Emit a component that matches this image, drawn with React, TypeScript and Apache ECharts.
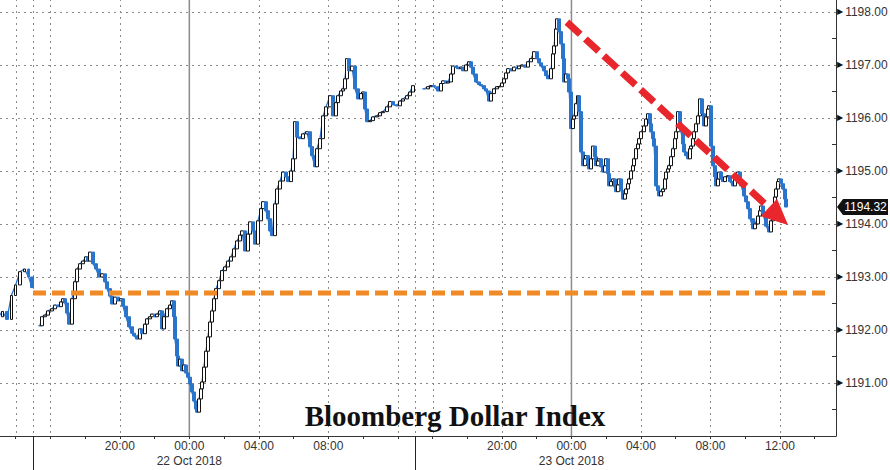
import React, { useEffect, useRef } from "react";
import * as echarts from "echarts";

// Hours are measured from the Sunday 21 Oct 15:00 session open.
// The Monday 15:00 session starts 22 hours later on the compressed axis.
const fridayPoints: [number, number][] = [
  [-2.0, 1192.25], [-1.75, 1192.35], [-1.5, 1192.2], [-1.25, 1192.65], [-1.0, 1192.85],
  [-0.75, 1193.1], [-0.5, 1193.15], [-0.25, 1193.0], [-0.06, 1192.8],
];

const sessionOnePoints: [number, number][] = [
  [0.40, 1192.08], [0.52, 1192.25], [0.69, 1192.28], [0.86, 1192.36], [1.09, 1192.40],
  [1.27, 1192.47], [1.44, 1192.44], [1.61, 1192.53], [1.73, 1192.59], [1.84, 1192.51],
  [1.96, 1192.32], [2.07, 1192.11], [2.25, 1192.59], [2.42, 1192.91], [2.53, 1193.15],
  [2.71, 1193.25], [2.88, 1193.30], [3.05, 1193.38], [3.17, 1193.30], [3.28, 1193.47],
  [3.45, 1193.25], [3.63, 1193.15], [3.80, 1193.00], [3.97, 1193.06], [4.15, 1192.91],
  [4.26, 1192.78], [4.43, 1192.64], [4.55, 1192.49], [4.72, 1192.62], [4.89, 1192.55],
  [5.07, 1192.59], [5.18, 1192.45], [5.35, 1192.25], [5.53, 1192.06], [5.70, 1191.94],
  [5.81, 1191.89], [5.99, 1191.83], [6.16, 1192.02], [6.28, 1191.93], [6.45, 1192.11],
  [6.56, 1192.21], [6.74, 1192.25], [6.85, 1192.30], [7.02, 1192.25], [7.14, 1192.30],
  [7.31, 1192.36], [7.43, 1192.02], [7.54, 1192.25], [7.71, 1192.40], [7.89, 1192.47],
  [8.00, 1192.55], [8.12, 1192.25], [8.17, 1191.83], [8.29, 1191.51], [8.35, 1191.32],
  [8.46, 1191.45], [8.58, 1191.23], [8.69, 1191.34], [8.81, 1191.19], [8.92, 1191.11],
  [9.04, 1190.98], [9.15, 1190.83], [9.27, 1190.66], [9.38, 1190.51], [9.44, 1190.45],
  [9.56, 1190.70], [9.67, 1190.89], [9.73, 1191.02], [9.84, 1191.30], [9.96, 1191.60],
  [10.07, 1191.87], [10.19, 1192.15], [10.31, 1192.36], [10.42, 1192.59], [10.54, 1192.78],
  [10.71, 1192.93], [10.88, 1193.12], [11.05, 1193.19], [11.23, 1193.30], [11.40, 1193.38],
  [11.57, 1193.53], [11.74, 1193.68], [11.92, 1193.79], [12.03, 1193.87], [12.20, 1193.49],
  [12.38, 1193.81], [12.49, 1194.04], [12.67, 1193.87], [12.78, 1193.62], [12.95, 1194.06],
  [13.13, 1194.29], [13.24, 1194.42], [13.41, 1194.25], [13.53, 1194.10], [13.64, 1193.87],
  [13.76, 1193.78], [13.93, 1194.38], [14.05, 1194.66], [14.22, 1194.81], [14.39, 1194.98],
  [14.57, 1194.89], [14.68, 1194.80], [14.85, 1195.00], [14.97, 1195.23], [15.08, 1195.93],
  [15.20, 1195.64], [15.37, 1195.61], [15.54, 1195.70], [15.77, 1195.74], [15.95, 1195.46],
  [16.06, 1195.29], [16.23, 1195.08], [16.35, 1195.42], [16.52, 1195.61], [16.70, 1196.04],
  [16.87, 1196.21], [17.10, 1196.42], [17.27, 1196.04], [17.44, 1196.29], [17.56, 1196.42],
  [17.73, 1196.51], [17.85, 1196.55], [17.96, 1196.74], [18.08, 1197.12], [18.19, 1196.89],
  [18.36, 1196.98], [18.54, 1196.55], [18.71, 1196.36], [18.88, 1196.46], [19.00, 1196.49],
  [19.11, 1196.17], [19.23, 1195.93], [19.40, 1195.95], [19.57, 1196.02], [19.80, 1196.04],
  [19.98, 1196.10], [20.15, 1196.12], [20.38, 1196.21], [20.55, 1196.31], [20.73, 1196.25],
  [20.95, 1196.23], [21.13, 1196.32], [21.30, 1196.36], [21.53, 1196.42], [21.70, 1196.49],
  [21.88, 1196.61],
];

const sessionTwoPoints: [number, number][] = [
  [0.52, 1196.55], [0.75, 1196.59], [0.92, 1196.61], [1.09, 1196.59], [1.32, 1196.51],
  [1.50, 1196.65], [1.61, 1196.70], [1.78, 1196.66], [1.90, 1196.68], [2.07, 1196.83],
  [2.19, 1196.98], [2.36, 1196.96], [2.48, 1196.93], [2.65, 1196.96], [2.76, 1196.89],
  [2.94, 1197.00], [3.11, 1197.06], [3.22, 1196.96], [3.34, 1196.83], [3.51, 1196.68],
  [3.68, 1196.63], [3.80, 1196.61], [3.97, 1196.55], [4.09, 1196.51], [4.26, 1196.32],
  [4.38, 1196.46], [4.55, 1196.55], [4.72, 1196.59], [4.84, 1196.59], [5.01, 1196.66],
  [5.12, 1196.74], [5.24, 1196.85], [5.35, 1196.93], [5.53, 1196.89], [5.70, 1196.96],
  [5.87, 1196.93], [5.99, 1196.98], [6.16, 1197.00], [6.33, 1196.96], [6.51, 1197.06],
  [6.68, 1197.12], [6.85, 1197.25], [7.02, 1197.12], [7.14, 1197.04], [7.25, 1196.98],
  [7.43, 1196.89], [7.54, 1196.80], [7.66, 1196.74], [7.83, 1196.93], [7.94, 1197.21],
  [8.00, 1197.36], [8.12, 1197.68], [8.17, 1197.87], [8.29, 1197.63], [8.41, 1197.40],
  [8.52, 1197.12], [8.58, 1196.68], [8.69, 1196.83], [8.81, 1196.74], [8.87, 1196.49],
  [8.98, 1195.80], [9.10, 1195.98], [9.15, 1196.04], [9.27, 1196.27], [9.38, 1196.42],
  [9.44, 1196.12], [9.56, 1195.36], [9.67, 1195.10], [9.79, 1195.23], [9.84, 1195.29],
  [9.96, 1195.14], [10.02, 1195.04], [10.13, 1195.23], [10.25, 1195.47], [10.36, 1195.27],
  [10.42, 1195.10], [10.54, 1195.19], [10.59, 1195.23], [10.71, 1195.08], [10.82, 1194.98],
  [10.94, 1195.10], [11.00, 1195.23], [11.11, 1194.95], [11.17, 1194.72], [11.28, 1194.80],
  [11.40, 1194.85], [11.51, 1194.70], [11.57, 1194.61], [11.69, 1194.74], [11.74, 1194.85],
  [11.86, 1194.63], [11.97, 1194.47], [12.09, 1194.57], [12.15, 1194.66], [12.26, 1194.76],
  [12.32, 1194.85], [12.44, 1195.00], [12.55, 1195.10], [12.61, 1195.23], [12.72, 1195.42],
  [12.84, 1195.51], [12.90, 1195.61], [13.01, 1195.74], [13.18, 1195.85], [13.30, 1195.98],
  [13.41, 1196.08], [13.53, 1195.89], [13.59, 1195.74], [13.70, 1195.61], [13.76, 1195.47],
  [13.87, 1194.72], [13.99, 1194.63], [14.05, 1194.53], [14.16, 1194.61], [14.28, 1194.66],
  [14.39, 1194.85], [14.45, 1194.98], [14.57, 1195.04], [14.62, 1195.10], [14.74, 1195.27],
  [14.85, 1195.42], [14.97, 1195.61], [15.03, 1195.74], [15.14, 1196.12], [15.26, 1195.89],
  [15.31, 1195.74], [15.43, 1195.51], [15.49, 1195.36], [15.60, 1195.29], [15.72, 1195.23],
  [15.83, 1195.42], [15.89, 1195.47], [16.00, 1195.61], [16.06, 1195.74], [16.18, 1195.89],
  [16.29, 1196.04], [16.41, 1196.36], [16.52, 1196.08], [16.64, 1195.85], [16.75, 1196.02],
  [16.87, 1196.17], [16.93, 1196.23], [17.04, 1195.47], [17.16, 1195.10], [17.27, 1194.89],
  [17.33, 1194.72], [17.44, 1194.85], [17.50, 1194.98], [17.62, 1194.85], [17.73, 1194.80],
  [17.85, 1194.89], [18.02, 1194.91], [18.13, 1194.80], [18.31, 1194.72], [18.42, 1194.85],
  [18.60, 1194.98], [18.71, 1194.81], [18.77, 1194.72], [18.94, 1194.53], [19.06, 1194.42],
  [19.17, 1194.29], [19.29, 1194.10], [19.46, 1193.91], [19.57, 1194.00], [19.75, 1194.15],
  [19.86, 1194.25], [19.92, 1194.34], [20.03, 1194.19], [20.21, 1193.96], [20.38, 1193.85],
  [20.49, 1194.06], [20.61, 1194.23], [20.73, 1194.51], [20.78, 1194.66], [20.90, 1194.80],
  [20.96, 1194.85], [21.07, 1194.76], [21.19, 1194.66], [21.30, 1194.47], [21.36, 1194.32],
];
const SESSION_TWO_OFFSET = 22;

const axisTickHours = [-1, 1, 3, 5, 7, 9, 11, 13, 15, 17, 19, 21, 23, 25, 27, 29, 31, 33, 35, 37, 39, 41, 43, 45];
const tickHours = [5, 9, 13, 17, 27, 31, 35, 39, 43];
const tickTexts = ["20:00", "00:00", "04:00", "08:00", "20:00", "00:00", "04:00", "08:00", "12:00"];
const dateHours = [9, 31];
const dateTexts = ["22 Oct 2018", "23 Oct 2018"];
const dottedGridHours = [-1, 0, 1, 5, 13, 17, 21, 22, 23, 27, 35, 39, 43];
const midnightHours = [9, 31];
const sessionBreakHours = [0, 22];

const supportLevel = 1192.7;
const supportFrom = 0;
const supportTo = 45.65;
const trendStart: [number, number] = [30.74, 1197.81];
const trendTip: [number, number] = [43.47, 1193.98];
const lastPrice = 1194.32;
const titleText = "Bloomberg Dollar Index";

const BLUE = "#2b74cc";
const FONT = "Liberation Sans";

function near(a: number, b: number) {
  return Math.abs(a - b) < 1e-6;
}

function toCandles(seg: number[][]) {
  return seg.map(([x, c], i) => {
    const o = i > 0 ? seg[i - 1][1] : c;
    return [x, o, c, Math.min(o, c), Math.max(o, c)];
  });
}

export default function App() {
  const ref = useRef<HTMLDivElement>(null);

  useEffect(() => {
    if (!ref.current) return;
    const chart = echarts.init(ref.current, null, { renderer: "svg" });

    const seg0 = fridayPoints.map(([h, v]) => [h, v]);
    const seg1 = sessionOnePoints.map(([h, v]) => [h, v]);
    const seg2 = sessionTwoPoints.map(([h, v]) => [h + SESSION_TWO_OFFSET, v]);
    const candles = [...toCandles(seg0), ...toCandles(seg1), ...toCandles(seg2)];

    const lineSeries = [seg0, seg1, seg2].map((seg) => ({
      type: "line",
      data: seg,
      symbol: "none",
      silent: true,
      z: 3,
      lineStyle: { color: BLUE, width: 1.3 },
    }));

    chart.setOption({
      animation: false,
      grid: { left: 0, right: 54, top: -1, bottom: 34, containLabel: false, outerBoundsMode: "none" },
      xAxis: {
        type: "value",
        min: -1.9,
        max: 46.23,
        axisLine: { onZero: false, lineStyle: { color: "#333", width: 1 } },
        axisTick: { show: true, length: 3, customValues: axisTickHours, lineStyle: { color: "#333" } },
        splitLine: { show: false },
        axisLabel: {
          customValues: tickHours,
          margin: 2,
          color: "#333",
          fontSize: 12,
          lineHeight: 15,
          fontFamily: FONT,
          formatter: (v: number) => {
            const i = tickHours.findIndex((t) => near(t, v));
            if (i < 0) return "";
            const d = dateHours.findIndex((t) => near(t, v));
            return d >= 0 ? `${tickTexts[i]}\n${dateTexts[d]}` : tickTexts[i];
          },
        },
      },
      yAxis: {
        type: "value",
        position: "right",
        min: 1190,
        max: 1198.245,
        interval: 1,
        axisLine: { show: true, onZero: false, lineStyle: { color: "#333", width: 1 } },
        axisTick: { show: false, inside: true },
        minorTick: { show: true, splitNumber: 2, length: 4, lineStyle: { color: "#333" } },
        splitLine: { show: true, lineStyle: { color: "#8a8a8a", type: [2, 4], width: 1 } },
        axisLabel: {
          margin: 1,
          showMinLabel: false,
          showMaxLabel: false,
          formatter: (v: number) =>
            near(v, Math.round(v)) ? `{a|\u25B6}{b|${v.toFixed(2)}}` : "",
          rich: {
            a: { fontSize: 8, color: "#111", fontFamily: "DejaVu Sans", verticalAlign: "middle" },
            b: { fontSize: 12, color: "#333", fontFamily: FONT, padding: [0, 0, 0, 2], verticalAlign: "middle" },
          },
        },
      },
      series: [
        ...lineSeries,
        {
          type: "candlestick",
          data: candles,
          barWidth: 3,
          silent: true,
          z: 4,
          itemStyle: {
            color: "#ffffff",
            color0: BLUE,
            borderColor: "#111111",
            borderColor0: BLUE,
            borderWidth: 1,
          },
        },
      ],
    });

    const px = (x: number) => chart.convertToPixel({ xAxisIndex: 0 }, x) as number;
    const py = (y: number) => chart.convertToPixel({ yAxisIndex: 0 }, y) as number;
    const yTop = py(1198.245);
    const yBottom = py(1190);
    const xRight = px(46.23);

    const graphics: any[] = [];
    dottedGridHours.forEach((h) => {
      const x = Math.round(px(h)) + 0.5;
      graphics.push({
        type: "line",
        z: 1,
        silent: true,
        shape: { x1: x, y1: yTop, x2: x, y2: yBottom },
        style: { stroke: "#8a8a8a", lineWidth: 1, lineDash: [2, 4] },
      });
    });
    midnightHours.forEach((h) => {
      const x = px(h);
      graphics.push({
        type: "line",
        z: 1,
        silent: true,
        shape: { x1: x, y1: yTop, x2: x, y2: yBottom },
        style: { stroke: "#8c8c8c", lineWidth: 1.5 },
      });
    });
    sessionBreakHours.forEach((h) => {
      const x = Math.round(px(h)) + 0.5;
      graphics.push({
        type: "line",
        z: 1,
        silent: true,
        shape: { x1: x, y1: yBottom, x2: x, y2: 470 },
        style: { stroke: "#222", lineWidth: 1 },
      });
    });

    // support level
    graphics.push({
      type: "line",
      z: 50,
      silent: true,
      shape: { x1: px(supportFrom), y1: py(supportLevel), x2: px(supportTo), y2: py(supportLevel) },
      style: { stroke: "#f08a24", lineWidth: 5, lineDash: [13, 6] },
    });

    // down-trend arrow
    const sx = px(trendStart[0]);
    const sy = py(trendStart[1]);
    const tx = px(trendTip[0]);
    const ty = py(trendTip[1]);
    const len = Math.hypot(tx - sx, ty - sy);
    const dx = (tx - sx) / len;
    const dy = (ty - sy) / len;
    const headLen = 26;
    const headHalf = 12;
    const bx = tx - dx * headLen;
    const by = ty - dy * headLen;
    graphics.push({
      type: "line",
      z: 51,
      silent: true,
      shape: { x1: sx, y1: sy, x2: bx + dx * 3, y2: by + dy * 3 },
      style: { stroke: "#e8262b", lineWidth: 7, lineDash: [18, 7] },
    });
    graphics.push({
      type: "polygon",
      z: 52,
      silent: true,
      shape: {
        points: [
          [tx, ty],
          [bx - dy * headHalf, by + dx * headHalf],
          [bx + dy * headHalf, by - dx * headHalf],
        ],
      },
      style: { fill: "#e8262b" },
    });

    // last price tag
    const ly = py(lastPrice);
    graphics.push({
      type: "polygon",
      z: 60,
      silent: true,
      shape: {
        points: [
          [xRight + 1, ly],
          [xRight + 7, ly - 8],
          [888, ly - 8],
          [888, ly + 8],
          [xRight + 7, ly + 8],
        ],
      },
      style: { fill: "#111" },
    });
    graphics.push({
      type: "text",
      z: 61,
      silent: true,
      x: (xRight + 7 + 888) / 2,
      y: ly,
      style: {
        text: lastPrice.toFixed(2),
        fill: "#ffffff",
        fontSize: 12,
        fontFamily: FONT,
        align: "center",
        verticalAlign: "middle",
      },
    });

    // title
    graphics.push({
      type: "text",
      z: 70,
      silent: true,
      x: 455,
      y: 416,
      style: {
        text: titleText,
        fill: "#111",
        fontSize: 29,
        fontWeight: "bold",
        fontFamily: "Liberation Serif",
        align: "center",
        verticalAlign: "middle",
      },
    });

    chart.setOption({ graphic: graphics });

    return () => chart.dispose();
  }, []);

  return (
    <div
      ref={ref}
      style={{ position: "absolute", left: 0, top: 0, width: 890, height: 470, background: "#fff" }}
    />
  );
}
